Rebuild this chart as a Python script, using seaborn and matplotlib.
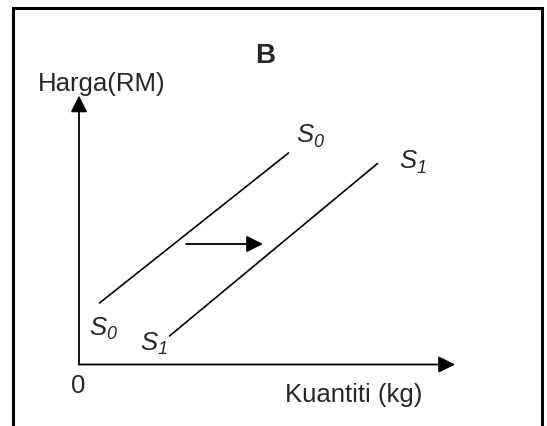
#!/usr/bin/env python3
"""Supply shift diagram B: S0 moves right to S1."""
import matplotlib
matplotlib.use("Agg")
import matplotlib.pyplot as plt
import pandas as pd
import seaborn as sns

# data (quantity, price) in diagram units, origin at the axes corner
s0_quantity = [2.05, 20.95]
s0_price = [6.15, 21.15]
s1_quantity = [9.05, 29.85]
s1_price = [2.85, 20.1]
shift_from = (10.7, 12.05)
shift_to = (18.4, 12.05)
axis_x_end = 37.6
axis_y_end = 26.9

title = "B"
ylabel = "Harga(RM)"
xlabel = "Kuantiti (kg)"
origin_label = "0"
# (letter, subscript, x, y)
curve_labels = [
    ("S", "0", 1.0, 2.95),
    ("S", "1", 6.1, 1.45),
    ("S", "0", 21.7, 22.22),
    ("S", "1", 32.03, 19.62),
]

sns.set_style("white")
plt.rcParams["font.family"] = ["Liberation Sans", "DejaVu Sans"]

fig = plt.figure(figsize=(5.47, 4.26), dpi=100)
ax = fig.add_axes([0, 0, 1, 1])
ax.set_xlim(-7.9, 46.8)
ax.set_ylim(-6.15, 36.45)
ax.axis("off")

curves = pd.DataFrame({
    "quantity": s0_quantity + s1_quantity,
    "price": s0_price + s1_price,
    "curve": ["S0"] * len(s0_quantity) + ["S1"] * len(s1_quantity),
})
sns.lineplot(data=curves, x="quantity", y="price", units="curve",
             estimator=None, sort=False, color="black", lw=1.2,
             legend=False, ax=ax)

arrow_style = "-|>,head_length=1.0,head_width=0.5"
for tail, tip in [((0, 0), (0, axis_y_end)),
                  ((0, 0), (axis_x_end, 0)),
                  (shift_from, shift_to)]:
    ax.annotate("", xy=tip, xytext=tail,
                arrowprops=dict(arrowstyle=arrow_style, color="black",
                                lw=1.3, shrinkA=0, shrinkB=0,
                                mutation_scale=10))

# frame (bottom edge is cut off in the original)
left, right, top = 13 / 547, 542 / 547, 1 - 7.5 / 426
ax.plot([left, left, right, right], [-0.1, top, top, -0.1],
        transform=ax.transAxes, color="black", lw=2.2, clip_on=False,
        solid_joinstyle="miter")

ax.text(18.65, 30.12, title, ha="center", va="baseline",
        fontsize=20, fontweight="bold")
ax.text(-4.1, 27.38, ylabel, ha="left", va="baseline", fontsize=18.5)
ax.text(20.6, -3.72, xlabel, ha="left", va="baseline", fontsize=18.5)
ax.text(-0.05, -2.85, origin_label, ha="center", va="baseline", fontsize=18.5)
for letter, sub, x, y in curve_labels:
    t = ax.text(x, y, letter, ha="left", va="baseline", fontsize=18.5,
                fontstyle="italic")
    ax.annotate(sub, xy=(1, 0), xycoords=t, xytext=(0.3, -2.5),
                textcoords="offset points", ha="left", va="bottom",
                fontsize=13, fontstyle="italic")

fig.savefig("out.png", dpi=100)
